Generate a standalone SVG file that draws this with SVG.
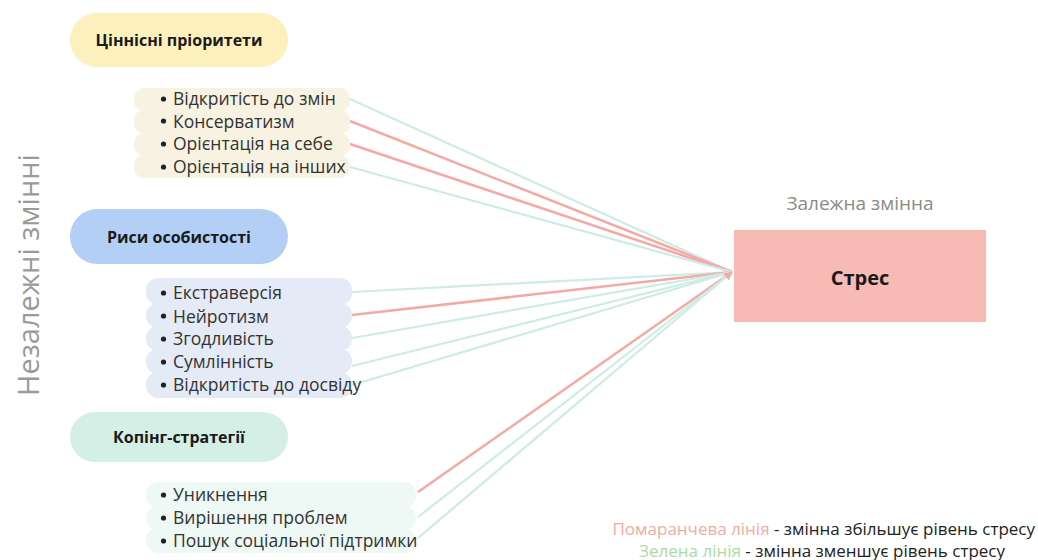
<svg xmlns="http://www.w3.org/2000/svg" width="1038" height="560" viewBox="0 0 1038 560">
<defs>
<style>
text{font-family:"Open Sans","Noto Sans","Liberation Sans",sans-serif;}
.hd{font-size:16px;font-weight:bold;fill:#1a1a1a;text-anchor:middle;}
.it{font-size:17.5px;fill:#333;}
.r{stroke:#f4aaa3;stroke-width:2.5;fill:none;}
.g{stroke:#cdece3;stroke-width:2.2;fill:none;}
.lbl{font-size:19px;fill:#8a8a8a;}
.leg{font-size:17px;}
</style>
<marker id="ah" viewBox="0 0 10 10" refX="9" refY="5" markerWidth="4" markerHeight="4" orient="auto"><path d="M0,0 L10,5 L0,10 z" fill="#f4aaa3"/></marker>
</defs>
<rect width="1038" height="560" fill="#fff"/>

<text transform="translate(39,275) rotate(-90)" text-anchor="middle" style="font-size:29px;fill:#9a9a9a">Незалежні змінні</text>

<g id="connectors">
<line class="g" x1="350" y1="99" x2="732" y2="272"/>
<line class="r" x1="350" y1="121" x2="732" y2="272"/>
<line class="r" x1="350" y1="144" x2="732" y2="272"/>
<line class="g" x1="350" y1="167" x2="732" y2="272"/>
<line class="g" x1="352" y1="292" x2="732" y2="272"/>
<line class="r" x1="352" y1="315" x2="732" y2="272"/>
<line class="g" x1="352" y1="338" x2="732" y2="272"/>
<line class="g" x1="352" y1="366" x2="732" y2="272"/>
<line class="g" x1="352" y1="385" x2="732" y2="272"/>
<line class="r" x1="418" y1="492" x2="732" y2="272"/>
<line class="g" x1="418" y1="517" x2="732" y2="272"/>
<line class="g" x1="418" y1="538" x2="732" y2="272" marker-end="url(#ah)"/>
</g>

<g id="values">
<rect x="70" y="13" width="218" height="54" rx="27" fill="#fcf0bd"/>
<text class="hd" x="179" y="46">Ціннісні пріоритети</text>
<g fill="#f7f2e1">
<rect x="134" y="88" width="216" height="23" rx="10"/>
<rect x="134" y="110" width="216" height="24" rx="10"/>
<rect x="134" y="133" width="216" height="23" rx="10"/>
<rect x="134" y="155" width="216" height="23" rx="10"/>
</g>
<g fill="#222">
<circle cx="163.5" cy="99" r="2.6"/><circle cx="163.5" cy="121" r="2.6"/><circle cx="163.5" cy="144" r="2.6"/><circle cx="163.5" cy="167" r="2.6"/>
</g>
<text class="it" x="173" y="105">Відкритість до змін</text>
<text class="it" x="173" y="128">Консерватизм</text>
<text class="it" x="173" y="150">Орієнтація на себе</text>
<text class="it" x="173" y="173">Орієнтація на інших</text>
</g>

<g id="traits">
<rect x="70" y="209" width="218" height="55" rx="27.5" fill="#b4cff5"/>
<text class="hd" x="179" y="243">Риси особистості</text>
<g fill="#e4eaf6">
<rect x="146" y="278" width="206" height="27" rx="12"/>
<rect x="146" y="303" width="206" height="25" rx="12"/>
<rect x="146" y="326" width="206" height="25" rx="12"/>
<rect x="146" y="349" width="206" height="25" rx="12"/>
<rect x="146" y="372" width="206" height="26" rx="12"/>
</g>
<g fill="#222">
<circle cx="163.5" cy="293" r="2.6"/><circle cx="163.5" cy="316" r="2.6"/><circle cx="163.5" cy="339" r="2.6"/><circle cx="163.5" cy="362" r="2.6"/><circle cx="163.5" cy="385" r="2.6"/>
</g>
<text class="it" x="173" y="299">Екстраверсія</text>
<text class="it" x="173" y="323">Нейротизм</text>
<text class="it" x="173" y="345">Згодливість</text>
<text class="it" x="173" y="368">Сумлінність</text>
<text class="it" x="173" y="391">Відкритість до досвіду</text>
</g>

<g id="coping">
<rect x="70" y="412" width="218" height="50" rx="25" fill="#d4efe6"/>
<text class="hd" x="179" y="443">Копінг-стратегії</text>
<g fill="#eef8f4">
<rect x="146" y="482" width="270" height="26" rx="12"/>
<rect x="146" y="506" width="270" height="24" rx="12"/>
<rect x="146" y="528" width="270" height="25" rx="12"/>
</g>
<g fill="#222">
<circle cx="163.5" cy="495" r="2.6"/><circle cx="163.5" cy="518" r="2.6"/><circle cx="163.5" cy="541" r="2.6"/>
</g>
<text class="it" x="173" y="501">Уникнення</text>
<text class="it" x="173" y="524">Вирішення проблем</text>
<text class="it" x="173" y="547">Пошук соціальної підтримки</text>
</g>

<g id="stress">
<text class="lbl" x="860" y="210" text-anchor="middle">Залежна змінна</text>
<rect x="734" y="230" width="252" height="92" fill="#f8bab5"/>
<text x="860" y="285" text-anchor="middle" style="font-size:20px;font-weight:bold;fill:#1a1a1a">Стрес</text>
</g>

<g id="legend">
<text class="leg" x="1035" y="535" text-anchor="end"><tspan fill="#f4aaa3">Помаранчева лінія </tspan><tspan fill="#222"> - змінна збільшує рівень стресу</tspan></text>
<text class="leg" x="1005" y="557" text-anchor="end"><tspan fill="#a9dba2">Зелена лінія</tspan><tspan fill="#222"> - змінна зменшує рівень стресу</tspan></text>
</g>
</svg>
